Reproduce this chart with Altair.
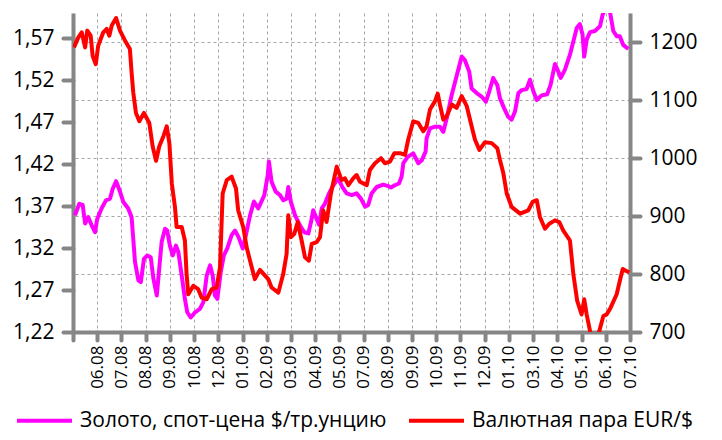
import json
import altair as alt
import pandas as pd

# Category labels of the x axis (positions 1..23; position 0 is the left edge)
x_labels = ["06.08", "07.08", "08.08", "09.08", "10.08", "12.08", "01.09", "02.09",
            "03.09", "04.09", "05.09", "07.09", "08.09", "09.09", "10.09", "11.09",
            "12.09", "01.10", "03.10", "04.10", "05.10", "06.10", "07.10"]

left_ticks = [1.22, 1.27, 1.32, 1.37, 1.42, 1.47, 1.52, 1.57]
right_ticks = [700, 800, 900, 1000, 1100, 1200]

gold_name = "Золото, спот-цена $/тр.унцию"
eur_name = "Валютная пара EUR/$"

# EUR/USD (left axis): (position, rate)
eur = [(0.04, 1.559), (0.22, 1.571), (0.36, 1.577), (0.50, 1.559), (0.59, 1.579), (0.73, 1.573),
       (0.81, 1.549), (0.94, 1.539), (1.04, 1.561), (1.25, 1.577), (1.39, 1.581), (1.50, 1.573),
       (1.60, 1.585), (1.78, 1.594), (1.94, 1.579), (2.15, 1.567), (2.35, 1.557), (2.42, 1.529),
       (2.49, 1.505), (2.60, 1.481), (2.74, 1.471), (2.93, 1.481), (3.15, 1.469), (3.29, 1.441),
       (3.43, 1.424), (3.56, 1.441), (3.73, 1.453), (3.87, 1.465), (3.98, 1.445), (4.08, 1.397),
       (4.21, 1.369), (4.28, 1.345), (4.49, 1.345), (4.62, 1.329), (4.69, 1.289), (4.76, 1.265),
       (4.97, 1.275), (5.17, 1.271), (5.31, 1.261), (5.52, 1.259), (5.73, 1.271), (5.93, 1.273),
       (6.07, 1.297), (6.18, 1.385), (6.35, 1.401), (6.55, 1.405), (6.73, 1.391), (6.82, 1.365),
       (7.03, 1.345), (7.17, 1.321), (7.38, 1.297), (7.51, 1.283), (7.72, 1.294), (8.06, 1.283),
       (8.20, 1.273), (8.48, 1.267), (8.68, 1.289), (8.82, 1.313), (8.89, 1.359), (9.00, 1.333),
       (9.14, 1.337), (9.28, 1.351), (9.44, 1.329), (9.58, 1.309), (9.74, 1.305), (9.86, 1.325),
       (10.06, 1.327), (10.20, 1.333), (10.33, 1.365), (10.47, 1.351), (10.65, 1.385), (10.89, 1.417),
       (11.09, 1.401), (11.23, 1.403), (11.37, 1.395), (11.57, 1.403), (11.71, 1.407), (11.85, 1.399),
       (12.13, 1.395), (12.26, 1.413), (12.47, 1.421), (12.72, 1.427), (12.88, 1.421), (13.09, 1.423),
       (13.27, 1.433), (13.50, 1.433), (13.71, 1.431), (13.84, 1.449), (14.05, 1.471), (14.26, 1.469),
       (14.46, 1.459), (14.60, 1.465), (14.74, 1.485), (14.95, 1.495), (15.06, 1.504), (15.15, 1.491),
       (15.29, 1.473), (15.43, 1.477), (15.64, 1.491), (15.84, 1.487), (16.05, 1.501), (16.26, 1.489),
       (16.46, 1.465), (16.60, 1.449), (16.78, 1.437), (17.01, 1.446), (17.29, 1.445), (17.52, 1.439),
       (17.63, 1.425), (17.77, 1.409), (17.91, 1.385), (18.11, 1.369), (18.46, 1.361), (18.80, 1.365),
       (18.98, 1.375), (19.15, 1.377), (19.28, 1.357), (19.49, 1.343), (19.67, 1.349), (19.90, 1.353),
       (20.08, 1.351), (20.24, 1.341), (20.52, 1.329), (20.66, 1.289), (20.82, 1.257), (21.00, 1.241),
       (21.11, 1.259), (21.21, 1.241), (21.35, 1.221), (21.53, 1.192), (21.73, 1.221), (21.90, 1.239),
       (22.04, 1.241), (22.20, 1.249), (22.45, 1.265), (22.58, 1.281), (22.70, 1.295), (22.83, 1.293),
       (22.97, 1.291)]

# Gold spot price (right axis): (position, $/oz)
gold = [(0.08, 901), (0.26, 921), (0.40, 919), (0.50, 887), (0.63, 898), (0.77, 884), (0.91, 872),
        (1.00, 895), (1.18, 913), (1.36, 927), (1.53, 930), (1.64, 947), (1.78, 960), (1.94, 942),
        (2.08, 924), (2.28, 913), (2.42, 898), (2.56, 821), (2.70, 789), (2.80, 786), (2.93, 826),
        (3.07, 832), (3.21, 829), (3.32, 792), (3.46, 763), (3.56, 809), (3.66, 855), (3.80, 878),
        (3.89, 875), (4.00, 849), (4.12, 832), (4.25, 849), (4.35, 838), (4.49, 797), (4.62, 757),
        (4.72, 734), (4.86, 725), (5.04, 734), (5.24, 740), (5.38, 751), (5.52, 797), (5.66, 815),
        (5.77, 797), (5.86, 763), (5.96, 757), (6.10, 803), (6.23, 832), (6.37, 844), (6.55, 867),
        (6.69, 875), (6.83, 864), (7.01, 844), (7.14, 867), (7.31, 901), (7.47, 925), (7.65, 913),
        (7.90, 936), (8.04, 970), (8.09, 994), (8.20, 959), (8.37, 942), (8.55, 936), (8.68, 927),
        (8.82, 930), (8.89, 950), (9.00, 924), (9.17, 901), (9.37, 884), (9.55, 872), (9.72, 870),
        (9.83, 890), (9.92, 910), (10.06, 895), (10.16, 885), (10.27, 913), (10.40, 921), (10.57, 939),
        (10.75, 953), (10.95, 965), (11.12, 950), (11.30, 939), (11.51, 936), (11.71, 939), (11.89, 930),
        (12.06, 916), (12.19, 919), (12.33, 939), (12.54, 950), (12.81, 954), (12.99, 952), (13.13, 949),
        (13.29, 953), (13.46, 956), (13.57, 968), (13.64, 991), (13.82, 1002), (14.05, 1008), (14.26, 991),
        (14.40, 996), (14.56, 1011), (14.60, 1034), (14.74, 1051), (14.95, 1054), (15.15, 1054),
        (15.29, 1045), (15.43, 1068), (15.64, 1109), (15.87, 1146), (16.05, 1175), (16.18, 1169),
        (16.36, 1149), (16.46, 1120), (16.67, 1112), (16.87, 1106), (17.05, 1097), (17.19, 1115),
        (17.35, 1138), (17.52, 1126), (17.63, 1103), (17.80, 1086), (17.97, 1071), (18.11, 1066),
        (18.25, 1080), (18.39, 1112), (18.53, 1117), (18.73, 1119), (18.87, 1135), (19.01, 1115),
        (19.15, 1100), (19.35, 1108), (19.58, 1110), (19.72, 1126), (19.90, 1162), (20.04, 1149),
        (20.14, 1138), (20.31, 1152), (20.52, 1178), (20.66, 1201), (20.80, 1224), (20.93, 1231),
        (21.04, 1213), (21.11, 1175), (21.21, 1204), (21.35, 1217), (21.55, 1219), (21.76, 1227),
        (21.87, 1247), (22.01, 1262), (22.17, 1253), (22.31, 1219), (22.45, 1210), (22.58, 1210),
        (22.72, 1195), (22.93, 1188)]

df_gold = pd.DataFrame(gold, columns=["t", "v"])
df_gold["s"] = gold_name
df_eur = pd.DataFrame(eur, columns=["t", "v"])
df_eur["s"] = eur_name

FONT = "Open Sans"
AXIS_GREY = "#868686"
GRID_GREY = "#a6a6a6"

label_js = json.dumps(x_labels, ensure_ascii=False)
x_enc = alt.X(
    "t:Q",
    scale=alt.Scale(domain=[0, 23], nice=False, zero=False),
    axis=alt.Axis(
        values=list(range(24)),
        labelExpr=f"datum.value < 1 ? '' : {label_js}[datum.value - 1]",
        labelAngle=270, labelAlign="right", labelBaseline="middle",
        labelFontSize=17, labelPadding=5, labelFont=FONT, labelColor="black",
        grid=True, gridDash=[3, 3], gridColor=GRID_GREY, gridWidth=1,
        tickSize=8, tickWidth=4, tickColor=AXIS_GREY, tickCap="round",
        domainColor=AXIS_GREY, domainWidth=4, title=None, labelOverlap=False,
    ),
)

color_enc = alt.Color(
    "s:N",
    scale=alt.Scale(domain=[gold_name, eur_name], range=["#FF00FF", "#FF0000"]),
    legend=alt.Legend(
        orient="none", legendX=-58, legendY=378, direction="horizontal", title=None,
        symbolType="stroke", symbolSize=3025, symbolStrokeWidth=4,
        labelFontSize=21, labelFont=FONT, labelColor="black", labelLimit=500,
        labelBaseline="middle",
        columnPadding=14, labelOffset=6, padding=0, rowPadding=0,
    ),
)

gold_line = alt.Chart(df_gold).mark_line(strokeWidth=4, clip=True, strokeJoin="round").encode(
    x=x_enc,
    y=alt.Y(
        "v:Q",
        scale=alt.Scale(domain=[700, 1250], nice=False, zero=False),
        axis=alt.Axis(
            orient="right", values=right_ticks, format="d",
            grid=True, gridDash=[3, 3], gridColor=GRID_GREY, gridWidth=1,
            labelFontSize=21, labelFont=FONT, labelColor="black", labelPadding=9,
            tickSize=10, tickWidth=4, tickColor=AXIS_GREY, tickCap="round",
            domainColor=AXIS_GREY, domainWidth=4, title=None,
        ),
    ),
    color=color_enc,
    order=alt.Order("t:Q"),
)

eur_line = alt.Chart(df_eur).mark_line(strokeWidth=4, clip=True, strokeJoin="round").encode(
    x=x_enc,
    y=alt.Y(
        "v:Q",
        scale=alt.Scale(domain=[1.22, 1.60], nice=False, zero=False),
        axis=alt.Axis(
            orient="left", values=left_ticks,
            labelExpr="replace(format(datum.value, '.2f'), '.', ',')",
            grid=False,
            labelFontSize=21, labelFont=FONT, labelColor="black", labelPadding=9,
            tickSize=10, tickWidth=4, tickColor=AXIS_GREY, tickCap="round",
            domainColor=AXIS_GREY, domainWidth=4, title=None,
        ),
    ),
    color=color_enc,
    order=alt.Order("t:Q"),
)

chart = (
    alt.layer(gold_line, eur_line)
    .resolve_scale(y="independent")
    .properties(
        width=557, height=319,
        autosize=alt.AutoSizeParams(type="none"),
        padding={"left": 65, "top": 5, "right": 84, "bottom": 100},
        background="white",
    )
    .configure_view(stroke=None)
)

chart.save("out.html", embed_options={"renderer": "svg", "actions": False})
